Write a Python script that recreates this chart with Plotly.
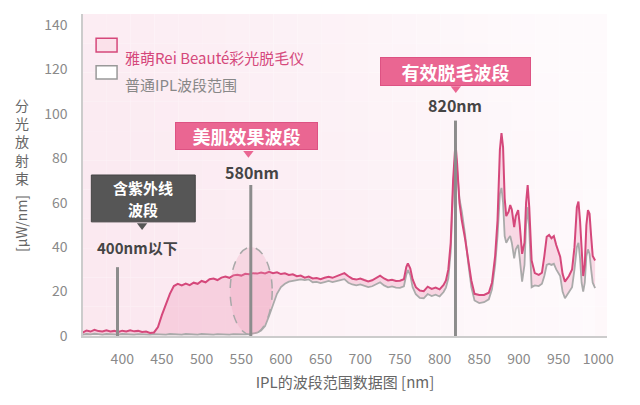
import plotly.graph_objects as go

# wavelength grid (nm)
wavelength = (
    list(range(350, 450, 5))
    + list(range(450, 760, 5))
    + [758, 760, 763, 766, 770, 775, 780, 785, 790, 795, 800, 805,
       808, 811, 814, 817, 820, 822, 825, 828, 832, 836, 840, 844,
       850, 856, 862, 866, 870, 873, 876, 878, 880, 882, 884, 887,
       889, 891, 894, 896, 899, 901, 904, 907, 909, 911, 913, 916,
       920, 925, 929, 932, 935, 938, 941, 944, 947, 952, 955, 958,
       963, 967, 970, 973, 975, 977, 979, 981, 983, 985, 987, 989,
       991, 993, 996]
)

# Rei Beauté spectrum
rei_beaute = (
    [1.5, 2.5, 2.0, 2.8, 2.2, 2.0, 2.6, 2.0, 2.3, 1.8,
     2.4, 2.0, 2.6, 2.1, 2.3, 1.8, 2.0, 1.4, 1.6, 4.0]
    + [9.5, 14, 19, 22.5, 23.5, 22.8, 23.6, 22.9, 24, 23.5,
       24.8, 24.2, 25.6, 25.9, 25.2, 26.3, 26.8, 26.2, 27.3, 27.6,
       27.2, 28, 27.8, 28.3, 28.1, 28.6, 28.2, 28.9, 28.3, 28.7,
       27.9, 28.2, 27.5, 27.8, 26.9, 27.2, 26.3, 26.8, 25.9, 26.1,
       25.6, 26.2, 26.7, 26.2, 26.8, 27.6, 28.3, 26.9, 25.8, 25.4,
       25.9, 25.2, 24.6, 25.1, 26.2, 27.2, 25.9, 25.0, 25.3, 24.8,
       24.9, 25.6]
    + [31, 32.7, 30.5, 25.5, 22, 20.5, 20.2, 22.2, 21.2, 21.8, 21, 23,
       25, 30, 42, 70, 87, 78, 60, 52, 44, 34, 25, 19,
       18.5, 18.5, 19.5, 24, 36, 52, 84, 91.4, 85, 62, 54, 56,
       59, 57, 49, 54, 56.7, 50, 37, 42, 60, 68, 58, 34,
       28.3, 27.5, 28.5, 36, 44.7, 45.5, 44, 45, 41, 35.7, 28, 24.5,
       27, 30, 40, 58, 60.5, 52, 36, 27, 32, 50, 56.7, 55,
       45, 36, 34]
)

# ordinary IPL spectrum
ordinary_ipl = (
    [0.6, 0.9, 0.7, 1.0, 0.8, 0.6, 0.9, 0.7, 0.8, 0.6,
     0.9, 0.7, 0.8, 0.6, 0.8, 0.7, 0.9, 0.6, 0.8, 0.7]
    + [0.8, 0.6, 0.9, 0.7, 0.8, 0.6, 0.9, 0.7, 0.8, 0.6,
       0.9, 0.7, 0.8, 0.6, 0.8, 0.7, 0.9, 0.6, 0.8, 0.7,
       0.9, 0.7, 0.8,
       1.0, 1.5, 2.5, 4.5, 9, 14, 19, 22, 23.5, 24.5,
       25, 25.2, 25.5, 25.2, 25.5, 24.2, 24.4, 23.8, 24.3, 24.8,
       24.3, 24.6, 25.2, 25.6, 24.0, 23.2, 22.8, 23.2, 22.6, 22.0,
       22.4, 23.3, 24.2, 22.8, 21.9, 22.3, 21.8, 21.7, 22.4]
    + [27.5, 29.7, 27.5, 22, 18.8, 17.2, 17.0, 18.9, 18.0, 18.6, 17.8, 19.8,
       21.8, 26, 38, 66, 84, 76, 62, 56, 46, 33, 22, 16,
       14.8, 15.2, 16.5, 21, 32, 45, 64, 66.7, 60, 45, 42, 44,
       45, 42, 35, 39, 41, 35, 24.5, 32, 50, 58, 48, 22,
       22.8, 22.5, 23.5, 27, 32, 32.5, 32, 32.5, 30, 27, 20, 17,
       19.5, 22, 30, 40, 42, 35, 24, 20, 24, 36, 39, 37,
       30, 24, 21.6]
)

# marker lines: position (nm) and height
marker_nm = [394, 562, 820]
marker_top = [31, 68, 97]

x_ticks = list(range(400, 1001, 50))
y_ticks = list(range(0, 141, 20))

FONT = "Noto Sans CJK SC"
PINK = "#d5487b"
GRAY = "#aaaaaa"

fig = go.Figure()

fig.add_trace(go.Scatter(
    x=wavelength, y=ordinary_ipl, mode="lines",
    line=dict(color=GRAY, width=1.8),
    fill="tozeroy", fillcolor="rgba(255,255,255,0.35)",
    hoverinfo="skip", showlegend=False,
))
fig.add_trace(go.Scatter(
    x=wavelength, y=rei_beaute, mode="lines",
    line=dict(color=PINK, width=2),
    fill="tonexty", fillcolor="rgba(238,140,175,0.28)",
    hoverinfo="skip", showlegend=False,
))

shapes = []

# soft pink background gradient
nx, ny = 22, 11
for i in range(nx):
    for j in range(ny):
        xf = (i + 0.5) / nx
        yf = (j + 0.5) / ny
        t = min(1.0, 0.15 + 0.75 * xf ** 1.4 + 0.25 * yf)
        r = round(250 * (1 - t) + 254 * t)
        g = round(228 * (1 - t) + 250 * t)
        b = round(237 * (1 - t) + 252 * t)
        shapes.append(dict(
            type="rect", xref="paper", yref="paper",
            x0=i / nx, x1=(i + 1) / nx, y0=j / ny, y1=(j + 1) / ny,
            fillcolor=f"rgb({r},{g},{b})", line=dict(width=0), layer="below",
        ))

# dashed ellipse around 560nm
shapes.append(dict(
    type="circle", xref="x", yref="y", x0=536, x1=589, y0=0.5, y1=40,
    line=dict(color="#a8a8a8", width=1.5, dash="dash"),
    fillcolor="rgba(235,150,180,0.25)",
))

for nm, top in zip(marker_nm, marker_top):
    shapes.append(dict(
        type="line", xref="x", yref="y", x0=nm, x1=nm, y0=0, y1=top,
        line=dict(color="#8c8c8c", width=3),
    ))

# dark callout box (UV band)
shapes.append(dict(type="rect", xref="x", yref="y", x0=361, x1=492, y0=51.4, y1=72.5,
                   fillcolor="#565656", line=dict(color="#444444", width=1)))

# legend boxes
shapes.append(dict(type="rect", xref="paper", yref="paper",
                   x0=0.025, x1=0.065, y0=0.882, y1=0.925,
                   fillcolor="#fbe1ea", line=dict(color=PINK, width=1.5)))
shapes.append(dict(type="rect", xref="paper", yref="paper",
                   x0=0.025, x1=0.065, y0=0.798, y1=0.839,
                   fillcolor="#ffffff", line=dict(color="#999999", width=1.5)))

annotations = [
    dict(x=0.076, y=0.904, xref="paper", yref="paper", xanchor="left",
         text="雅萌Rei Beauté彩光脱毛仪", showarrow=False,
         font=dict(family=FONT, size=15, color=PINK)),
    dict(x=0.076, y=0.820, xref="paper", yref="paper", xanchor="left",
         text="普通IPL波段范围", showarrow=False,
         font=dict(family=FONT, size=15, color="#888888")),
    # callout texts
    dict(x=426.5, y=66.7, xref="x", yref="y", text="<b>含紫外线</b>", borderpad=0,
         showarrow=False, font=dict(family=FONT, size=15, color="white")),
    dict(x=426.5, y=56.8, xref="x", yref="y", text="<b>波段</b>", borderpad=0,
         showarrow=False, font=dict(family=FONT, size=15, color="white")),
    dict(x=557, y=90, xref="x", yref="y", text="<b>美肌效果波段</b>",
         showarrow=False, bgcolor="#ea6692", bordercolor="#dd5283", borderwidth=1,
         width=139, height=24, borderpad=1,
         font=dict(family=FONT, size=18, color="white")),
    dict(x=820.4, y=119, xref="x", yref="y", text="<b>有效脱毛波段</b>",
         showarrow=False, bgcolor="#ea6692", bordercolor="#dd5283", borderwidth=1,
         width=147, height=25, borderpad=1,
         font=dict(family=FONT, size=18, color="white")),
    # wavelength labels
    dict(x=419, y=40, xref="x", yref="y", text="<b>400nm以下</b>", showarrow=False,
         font=dict(family=FONT, size=15, color="#454545")),
    dict(x=563.5, y=74, xref="x", yref="y", text="<b>580nm</b>", showarrow=False,
         font=dict(family=FONT, size=16, color="#454545")),
    dict(x=820, y=104, xref="x", yref="y", text="<b>820nm</b>", showarrow=False,
         font=dict(family=FONT, size=16, color="#454545")),
    # y-axis title
    dict(x=-0.117, y=0.605, xref="paper", yref="paper", xanchor="center",
         text="分<br>光<br>放<br>射<br>束", showarrow=False,
         font=dict(family=FONT, size=14, color="#666666")),
    dict(x=-0.117, y=0.35, xref="paper", yref="paper", xanchor="center",
         text="[μW/nm]", textangle=-90, showarrow=False,
         font=dict(family=FONT, size=14, color="#666666")),
]

# pointer triangles under the callout boxes
fig.add_trace(go.Scatter(
    x=[425, 559, 820.4], y=[49.8, 82.3, 111.5], mode="markers",
    marker=dict(symbol="triangle-down", size=9,
                color=["#565656", "#ea6692", "#ea6692"], line=dict(width=0)),
    hoverinfo="skip", showlegend=False,
))

# page body keeps an 8px margin, so the margins are offset by 8px
fig.update_layout(
    width=640, height=405,
    margin=dict(l=75, r=41, t=6, b=77),
    paper_bgcolor="white", plot_bgcolor="white",
    shapes=shapes, annotations=annotations,
    font=dict(family=FONT, color="#888888"),
    showlegend=False,
)
fig.update_xaxes(
    range=[350.5, 1011], tickvals=x_ticks, showgrid=False, zeroline=False,
    showline=True, linecolor="#cccccc", linewidth=1.5, ticks="",
    tickfont=dict(family=FONT, size=14, color="#8a8a8a"),
    ticklabelstandoff=9,
    title=dict(text="IPL的波段范围数据图 [nm]", standoff=11,
               font=dict(family=FONT, size=15, color="#666666")),
)
fig.update_yaxes(
    range=[0, 145], tickvals=y_ticks, showgrid=False, zeroline=False,
    showline=True, linecolor="#cccccc", linewidth=1.5, ticks="",
    tickfont=dict(family=FONT, size=14, color="#8a8a8a"),
    ticklabelstandoff=11,
)

fig.write_html("out.html")
